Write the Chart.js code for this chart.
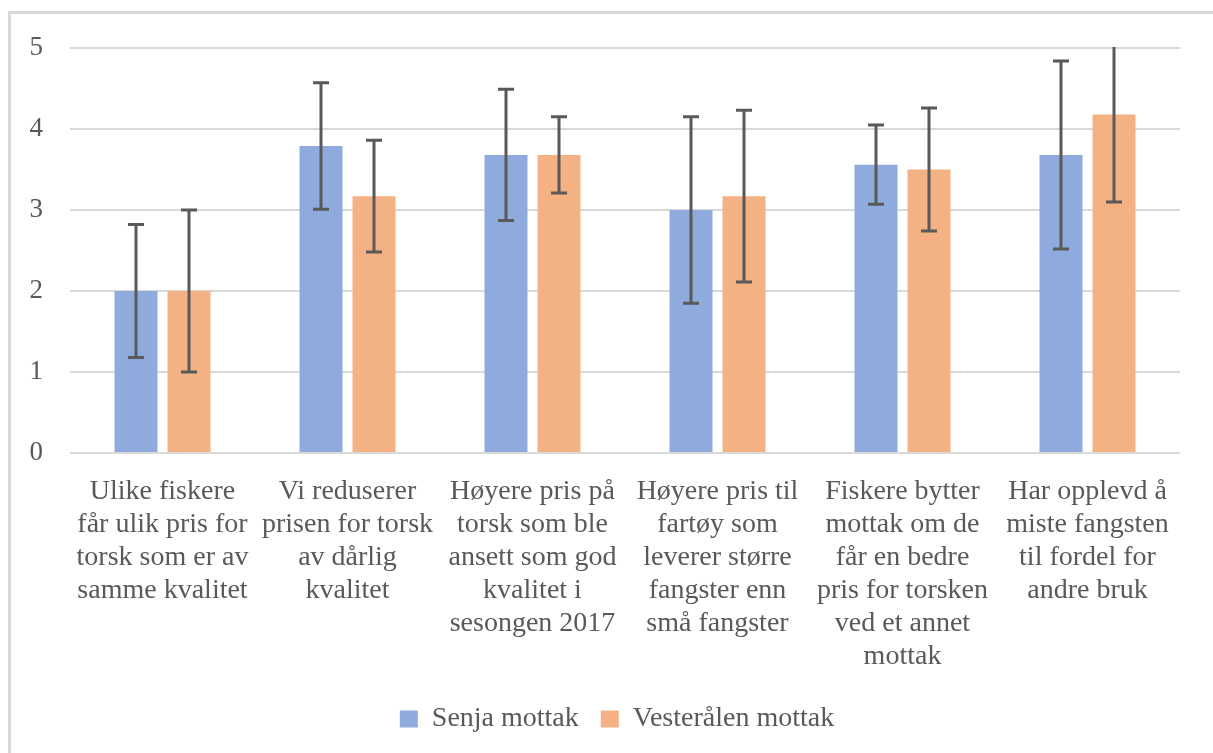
<!DOCTYPE html>
<html>
<head>
<meta charset="utf-8">
<script src="https://cdn.jsdelivr.net/npm/chart.js@4/dist/chart.umd.min.js"></script>
<style>
  html, body { margin: 0; padding: 0; background: #ffffff; overflow: hidden; }
  #frame { position: absolute; left: 8px; top: 11px; width: 1400px; height: 900px;
           border-left: 3px solid #d9d9d9; border-top: 3px solid #d9d9d9; }
  #wrap { position: absolute; left: 0; top: 0; width: 1213px; height: 753px; }
</style>
</head>
<body>
<div id="frame"></div>
<div id="wrap"><canvas id="c" width="1213" height="753"></canvas></div>
<script>
const categories = [
  ["Ulike fiskere", "får ulik pris for", "torsk som er av", "samme kvalitet"],
  ["Vi reduserer", "prisen for torsk", "av dårlig", "kvalitet"],
  ["Høyere pris på", "torsk som ble", "ansett som god", "kvalitet i", "sesongen 2017"],
  ["Høyere pris til", "fartøy som", "leverer større", "fangster enn", "små fangster"],
  ["Fiskere bytter", "mottak om de", "får en bedre", "pris for torsken", "ved et annet", "mottak"],
  ["Har opplevd å", "miste fangsten", "til fordel for", "andre bruk"]
];
const seriesNames = ["Senja mottak", "Vesterålen mottak"];
const senjaValues = [2.0, 3.79, 3.68, 3.0, 3.56, 3.68];
const senjaErrors = [0.82, 0.78, 0.81, 1.15, 0.49, 1.16];
const vesteraalenValues = [2.0, 3.17, 3.68, 3.17, 3.50, 4.18];
const vesteraalenErrors = [1.0, 0.69, 0.47, 1.06, 0.76, 1.08];
const yTicks = [0, 1, 2, 3, 4, 5];

const FONT = "'Liberation Serif', 'Times New Roman', serif";
const TEXT = "#595959";

const errorBarPlugin = {
  id: 'errorBars',
  afterDatasetsDraw(chart) {
    const ctx = chart.ctx;
    const yScale = chart.scales.y;
    const area = chart.chartArea;
    ctx.save();
    ctx.beginPath();
    ctx.rect(area.left, area.top - 1, area.right - area.left, area.bottom - area.top + 2);
    ctx.clip();
    ctx.strokeStyle = '#595959';
    ctx.lineWidth = 3;
    chart.data.datasets.forEach((ds, di) => {
      const meta = chart.getDatasetMeta(di);
      meta.data.forEach((bar, i) => {
        const v = ds.data[i], e = ds.errors[i];
        const x = bar.x;
        const yTop = yScale.getPixelForValue(v + e);
        const yBot = yScale.getPixelForValue(v - e);
        const cap = 8;
        ctx.beginPath();
        ctx.moveTo(x, yTop); ctx.lineTo(x, yBot);
        ctx.moveTo(x - cap, yTop); ctx.lineTo(x + cap, yTop);
        ctx.moveTo(x - cap, yBot); ctx.lineTo(x + cap, yBot);
        ctx.stroke();
      });
    });
    ctx.restore();
  }
};

const legendShift = {
  id: 'legendShift',
  afterLayout(chart) {
    const lg = chart.legend;
    if (lg) { lg.left += 13; lg.right += 13; }
  }
};

new Chart(document.getElementById('c'), {
  type: 'bar',
  data: {
    labels: categories,
    datasets: [
      { label: seriesNames[0], data: senjaValues, errors: senjaErrors,
        backgroundColor: '#8FAADC', categoryPercentage: 0.573, barPercentage: 0.811 },
      { label: seriesNames[1], data: vesteraalenValues, errors: vesteraalenErrors,
        backgroundColor: '#F4B183', categoryPercentage: 0.573, barPercentage: 0.811 }
    ]
  },
  options: {
    responsive: false,
    animation: false,
    layout: { padding: { left: 28, right: 33, top: 48, bottom: 10 } },
    plugins: {
      legend: {
        position: 'bottom',
        labels: {
          boxWidth: 18, boxHeight: 17, padding: 22,
          color: TEXT, font: { family: FONT, size: 28 }
        }
      },
      tooltip: { enabled: false }
    },
    scales: {
      x: {
        grid: { display: false, drawTicks: false },
        border: { display: false },
        ticks: {
          color: TEXT, font: { family: FONT, size: 28, lineHeight: 1.18 },
          padding: 22, maxRotation: 0, minRotation: 0, autoSkip: false
        },
        afterFit(scale) {
          scale.height = 230;
          scale.paddingLeft = 0;
          scale.paddingRight = 0;
        }
      },
      y: {
        min: 0, max: 5,
        afterBuildTicks(scale) { scale.ticks = yTicks.map(v => ({ value: v })); },
        grid: { color: '#d9d9d9', lineWidth: 2, drawTicks: false },
        border: { display: false },
        ticks: {
          color: TEXT, font: { family: FONT, size: 27 }, padding: 27
        },
        afterFit(scale) { scale.width = 42; }
      }
    }
  },
  plugins: [errorBarPlugin, legendShift]
});
</script>
</body>
</html>
